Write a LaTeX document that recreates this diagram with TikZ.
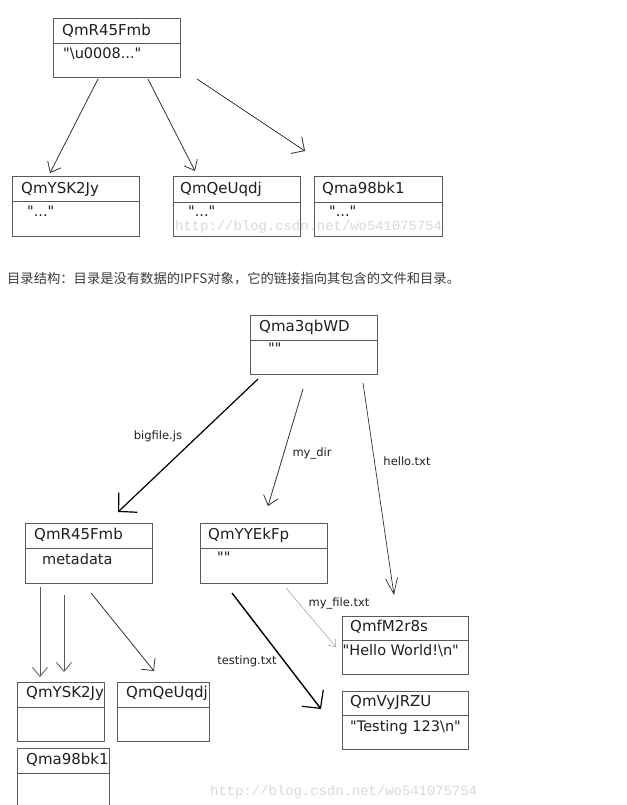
\documentclass[tikz,border=0pt]{standalone}
\usepackage{fontspec}
\setmainfont[Ligatures=TeXOff]{DejaVu Sans}
\newfontfamily\cjkfont{Noto Sans CJK SC}
\newfontfamily\wmfont{Liberation Mono}
\usetikzlibrary{arrows.meta,fit}
\definecolor{boxc}{HTML}{5A5A5A}
\definecolor{txtc}{HTML}{1E1E1E}
\definecolor{linec}{HTML}{333333}
\definecolor{cjkc}{HTML}{3A3A3A}
\definecolor{wmc}{HTML}{D8D8D8}
\newcommand\ipfsobj[6]{%
  \node[objbox,fit={(#2,#3) (#4,#5)}] (#1) {};
  \draw[boxc,line width=0.9pt] (#2,#6) -- (#4,#6);
}
\begin{document}
\begin{tikzpicture}[x=1pt,y=-1pt,
  objbox/.style={draw=boxc,line width=0.9pt,inner sep=0pt},
  ttl/.style={anchor=west,font=\fontsize{15}{18}\selectfont,text=txtc,inner sep=0pt},
  cnt/.style={anchor=west,font=\fontsize{14.5}{17}\selectfont,text=txtc,inner sep=0pt},
  lbl/.style={font=\fontsize{11.5}{14}\selectfont,text=txtc,inner sep=0pt},
  link/.style={draw=linec,line width=0.8pt,-{Straight Barb[length=9pt,width=15pt]}},
  thicklink/.style={draw=black,line width=1.4pt,-{Straight Barb[length=13pt,width=27pt,line width=1.2pt]}},
  wm/.style={font=\wmfont\fontsize{13.9}{16}\selectfont,text=wmc,inner sep=0pt,anchor=west}
]
\useasboundingbox (0,0) rectangle (626,805);

% ---------- top diagram ----------
\ipfsobj{t0}{53}{18}{180}{77}{43}
\node[ttl] (t0t) at (62,30.5) {QmR45Fmb};
\node[cnt] (t0c) at (63,54) {"\textbackslash u0008..."};

\ipfsobj{t1}{12}{176}{139}{236}{201}
\node[ttl] (t1t) at (21,189) {QmYSK2Jy};
\node[cnt] (t1c) at (27,211) {"..."};

\ipfsobj{t2}{173}{176}{300}{236}{202}
\node[ttl] (t2t) at (180,189) {QmQeUqdj};
\node[cnt] (t2c) at (188,211) {"..."};

\ipfsobj{t3}{314}{176}{442}{236}{202}
\node[ttl] (t3t) at (322,189) {Qma98bk1};
\node[cnt] (t3c) at (329,211) {"..."};

\coordinate (ta1s) at (98,79);  \coordinate (ta1e) at (50,173);
\coordinate (ta2s) at (148,79); \coordinate (ta2e) at (195,171);
\coordinate (ta3s) at (197,79); \coordinate (ta3e) at (305,151);
\draw[link] (ta1s) -- (ta1e);
\draw[link] (ta2s) -- (ta2e);
\draw[link,-{Straight Barb[length=10pt,width=20pt]}] (ta3s) -- (ta3e);

\node[wm] (wm1) at (175,227) {http://blog.csdn.net/wo541075754};

% ---------- caption ----------
\node[anchor=west,inner sep=0pt,font=\cjkfont\fontsize{13.3}{16}\selectfont,text=cjkc] (cap) at (7,279)
  {目录结构：目录是没有数据的IPFS对象，它的链接指向其包含的文件和目录。};

% ---------- bottom diagram ----------
\ipfsobj{root}{250}{315}{377}{374}{340}
\node[ttl] (roott) at (259,327) {Qma3qbWD};
\node[cnt] (rootc) at (268,348) {""};

\ipfsobj{big}{25}{523}{152}{583}{548}
\node[ttl] (bigt) at (34,535) {QmR45Fmb};
\node[cnt] (bigc) at (42,559) {metadata};

\ipfsobj{dir}{200}{523}{327}{583}{548}
\node[ttl] (dirt) at (208,535) {QmYYEkFp};
\node[cnt] (dirc) at (217,557) {""};

\ipfsobj{hello}{342}{616}{468}{674}{640}
\node[ttl] (hellot) at (350,627) {QmfM2r8s};
\node[cnt] (helloc) at (342.5,651) {"Hello World!\textbackslash n"};

\ipfsobj{test}{342}{691}{468}{749}{715}
\node[ttl] (testt) at (350,702) {QmVyJRZU};
\node[cnt] (testc) at (350,727) {"Testing 123\textbackslash n"};

\ipfsobj{b1}{17}{682}{104}{741}{707}
\node[ttl] (b1t) at (26,693) {QmYSK2Jy};

\ipfsobj{b2}{117}{682}{209}{741}{707}
\node[ttl] (b2t) at (126,693) {QmQeUqdj};

\ipfsobj{b3}{17}{748}{109}{812}{773}
\node[ttl] (b3t) at (26,760) {Qma98bk1};

% links from root
\coordinate (ra1s) at (258,379); \coordinate (ra1e) at (118,512);
\coordinate (ra2s) at (303,389); \coordinate (ra2e) at (268,506);
\coordinate (ra3s) at (363,383); \coordinate (ra3e) at (394,595);
\draw[thicklink,line width=1.2pt] (ra1s) -- (ra1e);
\draw[link] (ra2s) -- (ra2e);
\draw[link,line width=0.7pt,-{Straight Barb[length=16pt,width=12pt]}] (ra3s) -- (ra3e);
\node[lbl] (l1) at (158,436) {bigfile.js};
\node[lbl] (l2) at (312,453) {my\_dir};
\node[lbl] (l3) at (407,461) {hello.txt};

% links from bigfile
\coordinate (ba1s) at (40,587); \coordinate (ba1e) at (40,677);
\coordinate (ba2s) at (64,595); \coordinate (ba2e) at (64,672);
\coordinate (ba3s) at (91,593); \coordinate (ba3e) at (154,671);
\draw[link,draw=boxc] (ba1s) -- (ba1e);
\draw[link,draw=boxc] (ba2s) -- (ba2e);
\draw[link,-{Straight Barb[length=9pt,width=18pt]}] (ba3s) -- (ba3e);

% links from dir
\coordinate (da1s) at (232,593); \coordinate (da1e) at (321,709);
\coordinate (da2s) at (286,588); \coordinate (da2e) at (336,647);
\draw[thicklink] (da1s) -- (da1e);
\draw[draw=gray!80,line width=0.5pt,-{Straight Barb[length=6pt,width=10pt]}] (da2s) -- (da2e);
\node[lbl] (l4) at (247,661) {testing.txt};
\node[lbl] (l5) at (339,603) {my\_file.txt};

\node[wm] (wm2) at (210,792) {http://blog.csdn.net/wo541075754};
\end{tikzpicture}
\end{document}
